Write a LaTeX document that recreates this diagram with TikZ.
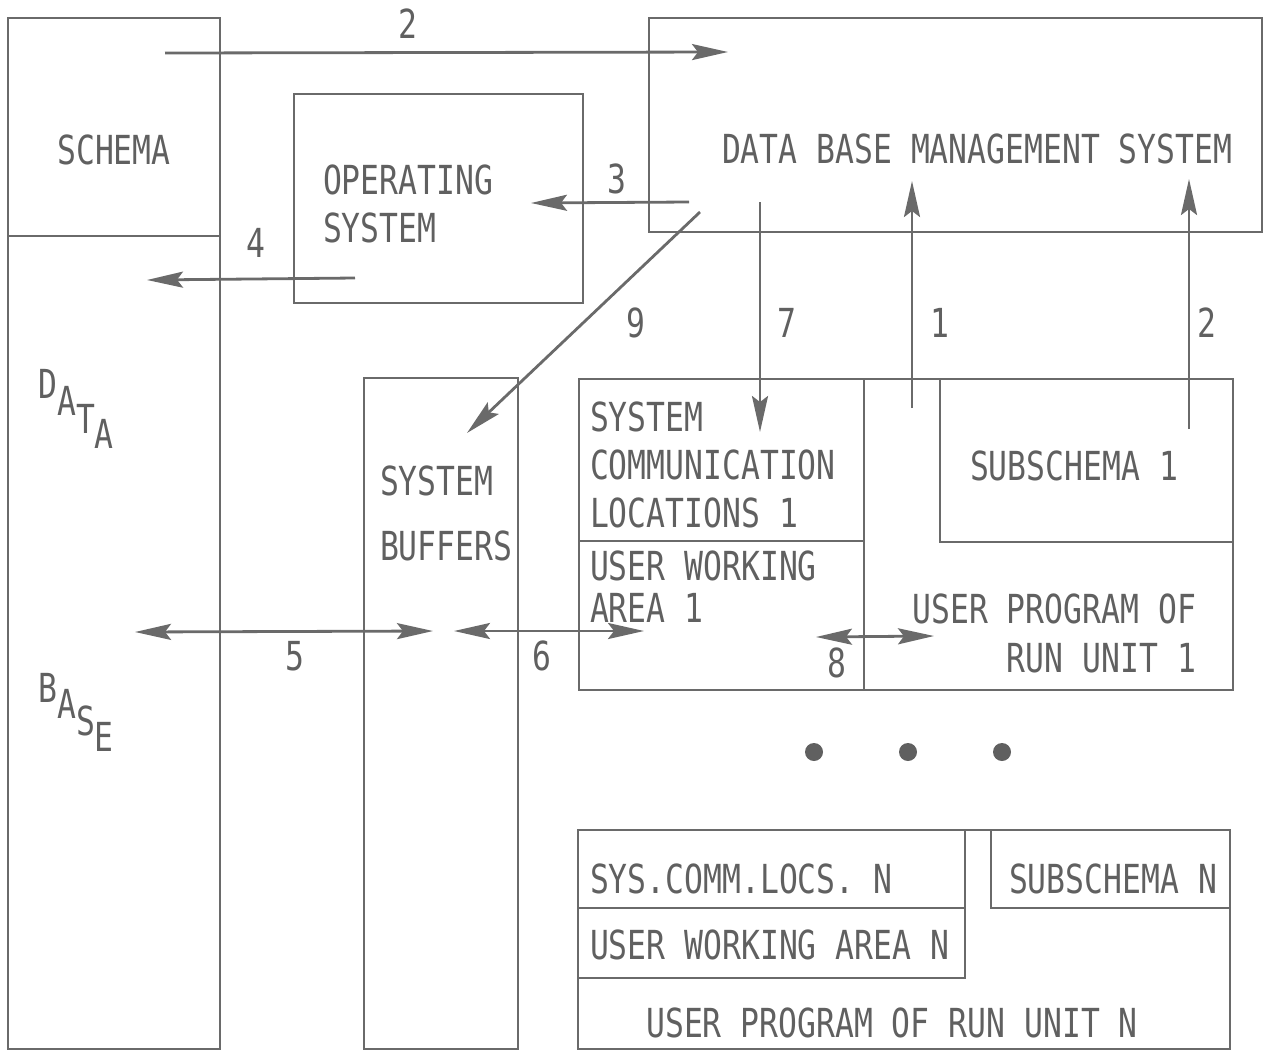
\documentclass[tikz,border=0pt]{standalone}
\usepackage{fontspec}
\setmainfont{DejaVu Sans Mono}[FakeStretch=0.785]
\usetikzlibrary{arrows.meta}
\definecolor{linec}{HTML}{6A6A6A}
\definecolor{textc}{HTML}{606060}
\tikzset{
  box/.style={draw=linec, line width=2.8pt, inner sep=0pt, outer sep=0pt, anchor=north west},
  lbl/.style={text=textc, inner sep=0pt, outer sep=0pt, font=\fontsize{40pt}{40pt}\selectfont},
  tip/.tip={Stealth[length=36pt,width=16pt,inset=6pt]},
  conn/.style={draw=linec, line width=2.8pt, -tip},
  dconn/.style={draw=linec, line width=2.8pt, tip-tip},
  dotn/.style={circle, fill=textc, minimum size=18pt, inner sep=0pt}
}
\begin{document}
\begin{tikzpicture}[x=1pt,y=-1pt]
\useasboundingbox (0,0) rectangle (1272,1053);
% boxes
\node[box, minimum width=212pt, minimum height=1031pt] (db) at (8,18) {};
\node[box, minimum width=212pt, minimum height=218pt] (schema) at (8,18) {};
\node[box, minimum width=289pt, minimum height=209pt] (os) at (294,94) {};
\node[box, minimum width=613pt, minimum height=214pt] (dbms) at (649,18) {};
\node[box, minimum width=154pt, minimum height=671pt] (buf) at (364,378) {};
\node[box, minimum width=654pt, minimum height=311pt] (ru1) at (579,379) {};
\node[box, minimum width=285pt, minimum height=162pt] (scl1) at (579,379) {};
\node[box, minimum width=285pt, minimum height=149pt] (uwa1) at (579,541) {};
\node[box, minimum width=293pt, minimum height=163pt] (sub1) at (940,379) {};
\node[box, minimum width=652pt, minimum height=219pt] (run) at (578,830) {};
\node[box, minimum width=387pt, minimum height=78pt] (scln) at (578,830) {};
\node[box, minimum width=387pt, minimum height=70pt] (uwan) at (578,908) {};
\node[box, minimum width=239pt, minimum height=78pt] (subn) at (991,830) {};
% texts
\node[lbl, anchor=base] (tschema) at (114,164) {SCHEMA};
\node[lbl, anchor=base west] (tos1) at (323,194) {OPERATING};
\node[lbl, anchor=base west] (tos2) at (323,242) {SYSTEM};
\node[lbl, anchor=base west] (tdbms) at (722,163) {DATA BASE MANAGEMENT SYSTEM};
\node[lbl, anchor=base west] (tbuf1) at (380,495) {SYSTEM};
\node[lbl, anchor=base west] (tbuf2) at (380,560) {BUFFERS};
\node[lbl, anchor=base west] (tscl1a) at (590,431) {SYSTEM};
\node[lbl, anchor=base west] (tscl1b) at (590,479) {COMMUNICATION};
\node[lbl, anchor=base west] (tscl1c) at (590,527) {LOCATIONS 1};
\node[lbl, anchor=base west] (tuwa1a) at (590,580) {USER WORKING};
\node[lbl, anchor=base west] (tuwa1b) at (590,622) {AREA 1};
\node[lbl, anchor=base west] (tsub1) at (970,480) {SUBSCHEMA 1};
\node[lbl, anchor=base east] (tup1a) at (1196,623) {USER PROGRAM OF};
\node[lbl, anchor=base east] (tup1b) at (1196,672) {RUN UNIT 1};
\node[lbl, anchor=base west] (tscln) at (590,893) {SYS.COMM.LOCS. N};
\node[lbl, anchor=base west] (tsubn) at (1009,893) {SUBSCHEMA N};
\node[lbl, anchor=base west] (tuwan) at (590,959) {USER WORKING AREA N};
\node[lbl, anchor=base] (tupn) at (892,1037) {USER PROGRAM OF RUN UNIT N};
% DATA / BASE staggered
\node[lbl, anchor=base] (d1) at (48,398) {D};
\node[lbl, anchor=base] (d2) at (67,415) {A};
\node[lbl, anchor=base] (d3) at (86,433) {T};
\node[lbl, anchor=base] (d4) at (104,448) {A};
\node[lbl, anchor=base] (b1) at (48,702) {B};
\node[lbl, anchor=base] (b2) at (67,718) {A};
\node[lbl, anchor=base] (b3) at (86,735) {S};
\node[lbl, anchor=base] (b4) at (104,751) {E};
% connector labels
\node[lbl, anchor=base] (n2a) at (408,38) {2};
\node[lbl, anchor=base] (n3) at (617,193) {3};
\node[lbl, anchor=base] (n4) at (256,257) {4};
\node[lbl, anchor=base] (n9) at (636,337) {9};
\node[lbl, anchor=base] (n7) at (787,337) {7};
\node[lbl, anchor=base] (n1) at (940,337) {1};
\node[lbl, anchor=base] (n2b) at (1207,337) {2};
\node[lbl, anchor=base] (n5) at (295,670) {5};
\node[lbl, anchor=base] (n6) at (542,670) {6};
\node[lbl, anchor=base] (n8) at (837,677) {8};
% connector end points
\coordinate (a2s) at (165,53);
\coordinate (a2e) at (728,52);
\coordinate (a3s) at (689,202);
\coordinate (a3e) at (531,203);
\coordinate (a4s) at (355,278);
\coordinate (a4e) at (147,280);
\coordinate (a9s) at (700,212);
\coordinate (a9e) at (467,433);
\coordinate (a7s) at (760,202);
\coordinate (a7e) at (760,432);
\coordinate (a1s) at (912,408);
\coordinate (a1e) at (912,181);
\coordinate (a2bs) at (1189,429);
\coordinate (a2be) at (1189,179);
\coordinate (a5s) at (135,632);
\coordinate (a5e) at (433,631);
\coordinate (a6s) at (454,631);
\coordinate (a6e) at (644,631);
\coordinate (a8s) at (816,637);
\coordinate (a8e) at (934,636);
% connectors
\draw[conn] (a2s) -- (a2e);
\draw[conn] (a3s) -- (a3e);
\draw[conn] (a4s) -- (a4e);
\draw[conn] (a9s) -- (a9e);
\draw[conn] (a7s) -- (a7e);
\draw[conn] (a1s) -- (a1e);
\draw[conn] (a2bs) -- (a2be);
\draw[dconn] (a5s) -- (a5e);
\draw[dconn] (a6s) -- (a6e);
\draw[dconn] (a8s) -- (a8e);
% dots
\node[dotn] (dot1) at (814,752) {};
\node[dotn] (dot2) at (908,752) {};
\node[dotn] (dot3) at (1002,752) {};
\end{tikzpicture}
\end{document}
